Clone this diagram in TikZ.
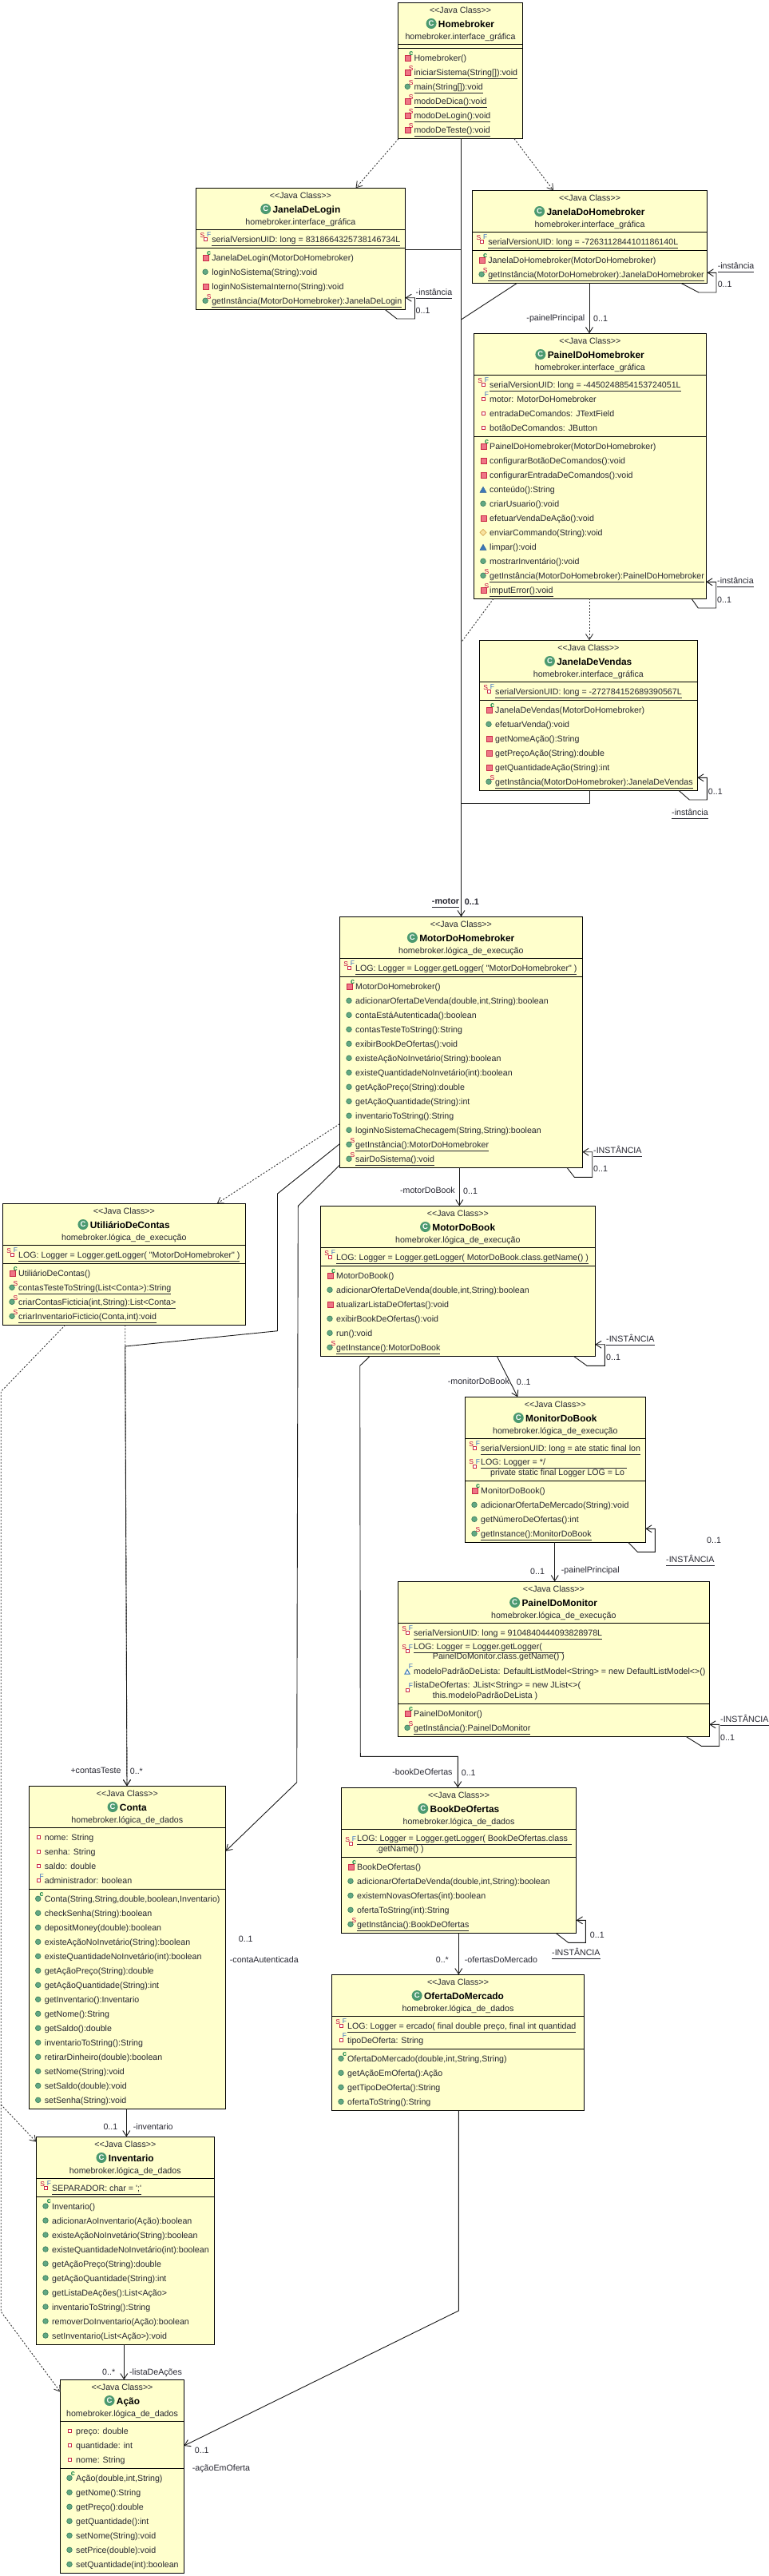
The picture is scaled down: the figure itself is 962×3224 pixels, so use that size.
\documentclass[tikz,border=0pt]{standalone}
\usepackage{fontspec}
\setmainfont{Liberation Sans}[Ligatures=TeXOff]
\usepackage{tikz}
\usetikzlibrary{arrows.meta,positioning}
\definecolor{boxfill}{HTML}{FFFFCC}
\definecolor{inkcol}{HTML}{262630}
\definecolor{classgreen}{HTML}{4C9A70}
\definecolor{pubfill}{HTML}{62A983}
\definecolor{pubedge}{HTML}{3F8060}
\definecolor{prifill}{HTML}{EE7585}
\definecolor{priedge}{HTML}{C92A48}
\definecolor{prefill}{HTML}{3C78B8}
\definecolor{pkgfill}{HTML}{F8E3A0}
\definecolor{pkgedge}{HTML}{D8A850}
\definecolor{markS}{HTML}{C4003C}
\definecolor{markF}{HTML}{3A6EC0}
\definecolor{markC}{HTML}{0B8040}
\tikzset{
  classbox/.style={draw=black,fill=boxfill,line width=1pt,rectangle,inner sep=0pt,outer sep=0pt,anchor=north west},
  sepline/.style={draw=black,line width=1pt},
  stereotext/.style={anchor=base,inner sep=0pt,text=inkcol,font=\fontsize{10.65}{12}\selectfont},
  titletext/.style={anchor=base,inner sep=0pt,text=black,text height=9pt,text depth=0pt,font=\fontsize{11.9}{13}\selectfont\bfseries},
  classicon/.style={circle,fill=classgreen,inner sep=0pt,minimum size=13pt,text=white,font=\fontsize{9.5}{10}\selectfont\bfseries},
  rowtext/.style={anchor=base west,inner sep=0pt,text=inkcol,font=\fontsize{10.65}{12}\selectfont},
  lblright/.style={rowtext},
  lblleft/.style={rowtext,anchor=base east},
  markhigh/.style={inner sep=0pt,font=\fontsize{8.5}{9}\selectfont},
  pubico/.style={fill=pubfill,draw=pubedge,line width=0.7pt},
  priico/.style={fill=prifill,draw=priedge,line width=0.8pt},
  proico/.style={fill=prefill,draw=prefill!80!black,line width=0.5pt},
  pkgico/.style={fill=pkgfill,draw=pkgedge,line width=0.7pt},
  fldico/.style={fill=white,draw=priedge,line width=1pt},
  solidline/.style={draw=black!90,line width=0.9pt},
  assoc/.style={solidline,-{Straight Barb[length=7pt,width=9pt]}},
  depline/.style={draw=black!80,line width=0.9pt,dash pattern=on 2pt off 2pt},
  dep/.style={depline,-{Straight Barb[length=7pt,width=9pt]}}
}
\newcommand{\stat}[1]{\setbox0=\hbox{#1}\rlap{\rule[-4.6pt]{\wd0}{0.9pt}}\box0 }
\newcommand{\statto}[2]{\rlap{\rule[-4.6pt]{#1}{0.9pt}}#2}
\newcommand{\mkS}[2]{\draw (#1-3.5,#2-9) node[markhigh,text=markS] (\cur s) {S};}
\newcommand{\mkF}[2]{\draw (#1-3.5,#2-9.5) node[markhigh,text=markF] (\cur f) {F};}
\newcommand{\mkC}[2]{\draw (#1-3.5,#2-9.5) node[markhigh,text=markC,font=\fontsize{9}{9}\selectfont\bfseries] (\cur c) {c};}
\newcommand{\icopub}[2]{\draw[pubico] (#1-8,#2-4) circle[radius=3.3pt];}
\newcommand{\icopri}[2]{\draw[priico] (#1-10.6,#2-6.8) rectangle (#1-4,#2-0.2);}
\newcommand{\icopro}[2]{\draw[proico] (#1-12,#2) -- (#1-4,#2) -- (#1-8,#2-7) -- cycle;}
\newcommand{\icopkg}[2]{\draw[pkgico] (#1-12,#2-4) -- (#1-8,#2) -- (#1-4,#2-4) -- (#1-8,#2-8) -- cycle;}
\newcommand{\icospub}[2]{\icopub{#1}{#2}\mkS{#1}{#2}}
\newcommand{\icospri}[2]{\icopri{#1}{#2}\mkS{#1}{#2}}
\newcommand{\icocpub}[2]{\icopub{#1}{#2}\mkC{#1}{#2}}
\newcommand{\icocpri}[2]{\icopri{#1}{#2}\mkC{#1}{#2}}
\newcommand{\icofpri}[2]{\draw[fldico] (#1-9.7,#2-6) rectangle (#1-5.7,#2-2);}
\newcommand{\icoffin}[2]{\icofpri{#1}{#2}\mkF{#1}{#2}}
\newcommand{\icosfin}[2]{\icofpri{#1}{#2}\mkF{#1}{#2}\draw (#1-11.7,#2-9) node[markhigh,text=markS] (\cur s) {S};}
\newcommand{\icopfin}[2]{\draw[draw=prefill,line width=1pt,fill=white] (#1-11,#2) -- (#1-5,#2) -- (#1-8,#2-5.5) -- cycle;\mkF{#1}{#2}}
\newcommand{\umlclass}[9]{%
  \pgfmathsetmacro{\boxw}{#4-#2}\pgfmathsetmacro{\boxh}{#5-#3}\pgfmathsetmacro{\boxc}{(#2+#4)/2}
  \node[classbox,minimum width=\boxw pt,minimum height=\boxh pt] (#1) at (#2,#3) {};
  \draw[sepline] (#1.west |- 0,#6) -- (#1.east |- 0,#6);
  \draw[sepline] (#1.west |- 0,#7) -- (#1.east |- 0,#7);
  \draw (\boxc,#3+13) node[stereotext] (#1-st) {<<Java Class>>};
  \draw (\boxc+7.5,#3+30.7) node[titletext] (#1-tt) {#8};
  \node[classicon,left=2pt of #1-tt] (#1-ic) {C};
  \draw (\boxc,#3+45.7) node[stereotext] (#1-pk) {#9};
}
\newcommand{\members}[4]{%
  \foreach \ico/\txt [count=\i] in {#4} {
    \pgfmathsetmacro{\yb}{#3+18*(\i-1)}
    \def\cur{#1\i}
    \csname ico\ico\endcsname{#2}{\yb}
    \draw (#2,\yb) node[rowtext] (\cur) {\txt};
  }}
\begin{document}
\begin{tikzpicture}[x=1pt,y=-1pt]
\useasboundingbox (0,0) rectangle (962,3224);

\umlclass{hb}{498.6}{3.3}{654.4}{173.7}{55.3}{60.3}{Homebroker}{homebroker.interface\_gráfica}
\members{hb-m}{518.3}{76.3}{cpri/Homebroker(),spri/\stat{iniciarSistema(String[]):void},spub/\stat{main(String[]):void},spri/\stat{modoDeDica():void},spri/\stat{modoDeLogin():void},spri/\stat{modoDeTeste():void}}

\umlclass{login}{245.4}{235.3}{507.5}{387.3}{287.3}{310.3}{JanelaDeLogin}{homebroker.interface\_gráfica}
\members{login-a}{265.1}{303.3}{sfin/\stat{serialVersionUID: long = 8318664325738146734L}}
\members{login-m}{265.1}{326.3}{cpri/JanelaDeLogin(MotorDoHomebroker),pub/loginNoSistema(String):void,pri/loginNoSistemaInterno(String):void,spub/\stat{getInstância(MotorDoHomebroker):JanelaDeLogin}}

\umlclass{janela}{591.4}{238.3}{885.6}{354.3}{290.3}{313.3}{JanelaDoHomebroker}{homebroker.interface\_gráfica}
\members{janela-a}{611.1}{306.3}{sfin/\stat{serialVersionUID: long = -7263112844101186140L}}
\members{janela-m}{611.1}{329.3}{cpri/JanelaDoHomebroker(MotorDoHomebroker),spub/\stat{getInstância(MotorDoHomebroker):JanelaDoHomebroker}}

\umlclass{painel}{593.3}{417.3}{884.3}{749.3}{469.3}{546.3}{PainelDoHomebroker}{homebroker.interface\_gráfica}
\members{painel-a}{613}{485.3}{sfin/\stat{serialVersionUID: long = -4450248854153724051L},ffin/motor: MotorDoHomebroker,fpri/entradaDeComandos: JTextField,fpri/botãoDeComandos: JButton}
\members{painel-m}{613}{562.3}{cpri/PainelDoHomebroker(MotorDoHomebroker),pri/configurarBotãoDeComandos():void,pri/configurarEntradaDeComandos():void,pro/conteúdo():String,pub/criarUsuario():void,pri/efetuarVendaDeAção():void,pkg/enviarCommando(String):void,pro/limpar():void,pub/mostrarInventário():void,spub/\stat{getInstância(MotorDoHomebroker):PainelDoHomebroker},spri/\stat{imputError():void}}

\umlclass{vendas}{600.3}{801.3}{873.3}{989.3}{853.3}{876.3}{JanelaDeVendas}{homebroker.interface\_gráfica}
\members{vendas-a}{620}{869.3}{sfin/\stat{serialVersionUID: long = -272784152689390567L}}
\members{vendas-m}{620}{892.3}{cpri/JanelaDeVendas(MotorDoHomebroker),pub/efetuarVenda():void,pri/getNomeAção():String,pri/getPreçoAção(String):double,pri/getQuantidadeAção(String):int,spub/\stat{getInstância(MotorDoHomebroker):JanelaDeVendas}}

\umlclass{motor}{425.3}{1147.3}{729.3}{1461.3}{1199.3}{1222.3}{MotorDoHomebroker}{homebroker.lógica\_de\_execução}
\members{motor-a}{445}{1215.3}{sfin/\stat{LOG: Logger = Logger.getLogger( "MotorDoHomebroker" )}}
\members{motor-m}{445}{1238.3}{cpri/MotorDoHomebroker(),pub/{adicionarOfertaDeVenda(double,int,String):boolean},pub/contaEstáAutenticada():boolean,pub/contasTesteToString():String,pub/exibirBookDeOfertas():void,pub/existeAçãoNoInvetário(String):boolean,pub/existeQuantidadeNoInvetário(int):boolean,pub/getAçãoPreço(String):double,pub/getAçãoQuantidade(String):int,pub/inventarioToString():String,pub/{loginNoSistemaChecagem(String,String):boolean},spub/\stat{getInstância():MotorDoHomebroker},spub/\stat{sairDoSistema():void}}

\umlclass{utilcontas}{3.3}{1506.3}{307.3}{1658.3}{1558.3}{1581.3}{UtiliárioDeContas}{homebroker.lógica\_de\_execução}
\members{utilcontas-a}{23}{1574.3}{sfin/\stat{LOG: Logger = Logger.getLogger( "MotorDoHomebroker" )}}
\members{utilcontas-m}{23}{1597.3}{cpri/UtiliárioDeContas(),spub/\stat{contasTesteToString(List<Conta>):String},spub/\stat{criarContasFicticia(int,String):List<Conta>},spub/\stat{criarInventarioFicticio(Conta,int):void}}

\umlclass{motorbook}{401.3}{1509.3}{745.3}{1697.3}{1561.3}{1584.3}{MotorDoBook}{homebroker.lógica\_de\_execução}
\members{motorbook-a}{421}{1577.3}{sfin/\stat{LOG: Logger = Logger.getLogger( MotorDoBook.class.getName() )}}
\members{motorbook-m}{421}{1600.3}{cpri/MotorDoBook(),pub/{adicionarOfertaDeVenda(double,int,String):boolean},pri/atualizarListaDeOfertas():void,pub/exibirBookDeOfertas():void,pub/run():void,spub/\stat{getInstance():MotorDoBook}}

\umlclass{monitor}{582.3}{1748.3}{808.3}{1930.3}{1800.3}{1853.3}{MonitorDoBook}{homebroker.lógica\_de\_execução}
\members{monitor-a}{602}{1816.3}{sfin/\stat{serialVersionUID: long = ate static final lon}}
\def\cur{monitor-b}\icosfin{602}{1839}
\draw (602,1833) node[rowtext] (monitor-b1) {\statto{183pt}{LOG: Logger = */}};
\draw (614,1846) node[rowtext] (monitor-b2) {private static final Logger LOG = Lo};
\members{monitor-m}{602}{1869.3}{cpri/MonitorDoBook(),pub/adicionarOfertaDeMercado(String):void,pub/getNúmeroDeOfertas():int,spub/\stat{getInstance():MonitorDoBook}}

\umlclass{paimon}{498.3}{1979.3}{888.3}{2173.3}{2031.3}{2132.3}{PainelDoMonitor}{homebroker.lógica\_de\_execução}
\members{paimon-a}{518}{2047.3}{sfin/\stat{serialVersionUID: long = 9104840444093828978L}}
\def\cur{paimon-b}\icosfin{518}{2070.7}
\draw (518,2064.3) node[rowtext] (paimon-b1) {\statto{187.7pt}{LOG: Logger = Logger.getLogger(}};
\draw (541.7,2076.7) node[rowtext] (paimon-b2) {PainelDoMonitor.class.getName() )};
\def\cur{paimon-c}\icopfin{518}{2095}
\draw (518,2095) node[rowtext] (paimon-c1) {modeloPadrãoDeLista: DefaultListModel<String> = new DefaultListModel<>()};
\def\cur{paimon-d}\icoffin{518}{2119}
\draw (518,2112) node[rowtext] (paimon-d1) {listaDeOfertas: JList<String> = new JList<>(};
\draw (541.7,2125) node[rowtext] (paimon-d2) {this.modeloPadrãoDeLista )};
\members{paimon-m}{518}{2148.3}{cpri/PainelDoMonitor(),spub/\stat{getInstância():PainelDoMonitor}}

\umlclass{bookof}{427.3}{2237.3}{721.7}{2419.3}{2289.3}{2324.3}{BookDeOfertas}{homebroker.lógica\_de\_dados}
\def\cur{bookof-a}\icosfin{447}{2311.3}
\draw (447,2304) node[rowtext] (bookof-a1) {\statto{269pt}{LOG: Logger = Logger.getLogger( BookDeOfertas.class}};
\draw (470.7,2317.3) node[rowtext] (bookof-a2) {.getName() )};
\members{bookof-m}{447}{2340.3}{cpri/BookDeOfertas(),pub/{adicionarOfertaDeVenda(double,int,String):boolean},pub/existemNovasOfertas(int):boolean,pub/ofertaToString(int):String,spub/\stat{getInstância():BookDeOfertas}}

\umlclass{oferta}{415.3}{2471.3}{731.7}{2641.7}{2523.3}{2564.3}{OfertaDoMercado}{homebroker.lógica\_de\_dados}
\members{oferta-a}{435}{2539.3}{sfin/\stat{LOG: Logger = ercado( final double preço, final int quantidad},ffin/tipoDeOferta: String}
\members{oferta-m}{435}{2580.3}{cpub/{OfertaDoMercado(double,int,String,String)},pub/getAçãoEmOferta():Ação,pub/getTipoDeOferta():String,pub/ofertaToString():String}

\umlclass{conta}{36}{2235.3}{282.7}{2639.3}{2287.7}{2364.3}{Conta}{homebroker.lógica\_de\_dados}
\members{conta-a}{55.7}{2303.7}{fpri/nome: String,fpri/senha: String,fpri/saldo: double,ffin/administrador: boolean}
\members{conta-m}{55.7}{2380.3}{cpub/{Conta(String,String,double,boolean,Inventario)},pub/checkSenha(String):boolean,pub/depositMoney(double):boolean,pub/existeAçãoNoInvetário(String):boolean,pub/existeQuantidadeNoInvetário(int):boolean,pub/getAçãoPreço(String):double,pub/getAçãoQuantidade(String):int,pub/getInventario():Inventario,pub/getNome():String,pub/getSaldo():double,pub/inventarioToString():String,pub/retirarDinheiro(double):boolean,pub/setNome(String):void,pub/setSaldo(double):void,pub/setSenha(String):void}

\umlclass{invent}{45.3}{2674.3}{268.3}{2934.3}{2726.3}{2749}{Inventario}{homebroker.lógica\_de\_dados}
\members{invent-a}{65}{2742.3}{sfin/\stat{SEPARADOR: char = ';'}}
\members{invent-m}{65}{2765}{cpub/Inventario(),pub/adicionarAoInventario(Ação):boolean,pub/existeAçãoNoInvetário(String):boolean,pub/existeQuantidadeNoInvetário(int):boolean,pub/getAçãoPreço(String):double,pub/getAçãoQuantidade(String):int,pub/getListaDeAções():List<Ação>,pub/inventarioToString():String,pub/removerDoInventario(Ação):boolean,pub/setInventario(List<Ação>):void}

\umlclass{acao}{75.7}{2978.3}{230.3}{3220.3}{3030.3}{3089.3}{Ação}{homebroker.lógica\_de\_dados}
\members{acao-a}{95}{3046.3}{fpri/preço: double,fpri/quantidade: int,fpri/nome: String}
\members{acao-m}{95}{3105.3}{cpub/{Ação(double,int,String)},pub/getNome():String,pub/getPreço():double,pub/getQuantidade():int,pub/setNome(String):void,pub/setPrice(double):void,pub/setQuantidade(int):boolean}

\coordinate (trunkA) at (577.5,312.7);
\coordinate (trunkB) at (577.5,400);
\coordinate (trunkC) at (577.5,804);
\coordinate (trunkD) at (577.5,1005);
\coordinate (vendasTurn) at (738,1005);
\coordinate (contaA) at (347.5,1494);
\coordinate (contaB) at (347.5,1665.7);
\coordinate (contaC) at (156.7,1685);
\coordinate (autA) at (373.3,1509.3);
\coordinate (autB) at (371.7,2230.7);
\coordinate (edgeA) at (1.2,1741.7);
\coordinate (edgeB) at (1.2,2893);
\coordinate (edgeC) at (1.2,2634);
\coordinate (bookA) at (450.7,1709.3);
\coordinate (bookB) at (451.3,2198.3);
\coordinate (bookC) at (573.3,2198.3);
\coordinate (ofertaTurn) at (574.3,2892);

\draw[dep] (hb.south -| 499,0) -- (login.north -| 445.5,0);
\draw[dep] (hb.south -| 644,0) -- (janela.north -| 693,0);
\path (hb.south -| 577.5,0) edge[assoc] (motor.north -| 577.5,0);
\path (login.east |- 0,312.7) edge[solidline] (trunkA);
\path (janela.south -| 647.7,0) edge[solidline] (trunkB);
\path (janela.south -| 738,0) edge[assoc] (painel.north -| 738,0);
\path (painel.south -| 618,0) edge[depline] (trunkC);
\path (painel.south -| 738,0) edge[dep] (vendas.north -| 738,0);
\draw[solidline] (vendas.south -| 738,0) -- (vendasTurn) -- (trunkD);

\draw[assoc] (login.south -| 482,0) -- (497,399) -- (519.5,399) -- (519.5,372.7) -- (login.east |- 0,372.7);
\draw[assoc] (janela.south -| 852.6,0) -- (875,366) -- (897,366) -- (897,341.3) -- (janela.east |- 0,341.3);
\draw[assoc] (painel.south -| 866,0) -- (874.3,761) -- (896.7,761) -- (896.7,728.3) -- (painel.east |- 0,728.3);
\draw[assoc] (vendas.south -| 850,0) -- (863.3,1001) -- (885.3,1001) -- (885.3,973.3) -- (vendas.east |- 0,973.3);
\draw[assoc] (motor.south -| 710,0) -- (719.3,1473.3) -- (741.7,1473.3) -- (741.7,1441.7) -- (motor.east |- 0,1441.7);
\draw[assoc] (motorbook.south -| 718.3,0) -- (735,1709.3) -- (757.3,1709.3) -- (757.3,1682.7) -- (motorbook.east |- 0,1682.7);
\draw[assoc] (monitor.south -| 786.7,0) -- (798.3,1942.3) -- (820.3,1942.3) -- (820.3,1913.3) -- (monitor.east |- 0,1913.3);
\draw[assoc] (paimon.south -| 859,0) -- (878.3,2185.3) -- (900.7,2185.3) -- (900.7,2158.3) -- (paimon.east |- 0,2158.3);
\draw[assoc] (bookof.south -| 696,0) -- (711.7,2431.3) -- (733.3,2431.3) -- (733.3,2403.3) -- (bookof.east |- 0,2403.3);

\path (motor.south -| 575.3,0) edge[assoc] (motorbook.north -| 575.3,0);
\draw[dep] (motor.west |- 0,1406.7) -- (utilcontas.north -| 271.7,0);
\draw[dep] (utilcontas.south -| 156.7,0) -- (conta.north -| 159,0);
\draw[assoc] (motor.west |- 0,1431.7) -- (contaA) -- (contaB) -- (contaC) -- (conta.north -| 159,0);
\draw[assoc] (motor.west |- 0,1458.3) -- (autA) -- (autB) -- (conta.east |- 0,2316.7);
\draw[dep] (utilcontas.south -| 81.7,0) -- (edgeA) -- (edgeB) -- (acao.west |- 0,2993.7);
\draw[dep] (edgeC) -- (invent.west |- 0,2680.7);
\path (motorbook.south -| 622.3,0) edge[assoc] (monitor.north -| 648.3,0);
\path (monitor.south -| 694.7,0) edge[assoc] (paimon.north -| 694.7,0);
\draw[assoc] (motorbook.south -| 463.3,0) -- (bookA) -- (bookB) -- (bookC) -- (bookof.north -| 573.3,0);
\path (bookof.south -| 574.3,0) edge[assoc] (oferta.north -| 574.3,0);
\path (conta.south -| 158.3,0) edge[assoc] (invent.north -| 158.3,0);
\path (invent.south -| 155.3,0) edge[assoc] (acao.north -| 155.3,0);
\draw[assoc] (oferta.south -| 574.3,0) -- (ofertaTurn) -- (acao.east |- 0,3061);

\draw (520.5,369) node[lblright] (instLogin) {\stat{-instância}};
\draw (520.5,392) node[lblright] (multLogin) {0..1};
\draw (898.6,336.5) node[lblright] (instJanela) {\stat{-instância}};
\draw (898.6,359) node[lblright] (multJanela) {0..1};
\draw (732.5,401.3) node[lblleft] (roleJanela) {-painelPrincipal};
\draw (743,402) node[lblright] (multPainelTop) {0..1};
\draw (898,730.5) node[lblright] (instPainel) {\stat{-instância}};
\draw (898,754) node[lblright] (multPainel) {0..1};
\draw (841,1020) node[lblright] (instVendas) {\stat{-instância}};
\draw (886.7,994) node[lblright] (multVendas) {0..1};
\draw (540.7,1131) node[lblright,font=\fontsize{10.8}{12}\selectfont\bfseries] (roleMotor) {\stat{-motor}};
\draw (581.7,1132) node[lblright,font=\fontsize{10.8}{12}\selectfont\bfseries] (multMotorTop) {0..1};
\draw (743,1443) node[lblright] (instMotor) {\stat{-INSTÂNCIA}};
\draw (743,1466) node[lblright] (multMotor) {0..1};
\draw (570,1493) node[lblleft] (roleBook) {-motorDoBook};
\draw (580,1494) node[lblright] (multBookTop) {0..1};
\draw (759,1679.3) node[lblright] (instBook) {\stat{-INSTÂNCIA}};
\draw (759,1702.3) node[lblright] (multBook) {0..1};
\draw (560.7,1732.3) node[lblright] (roleMonitor) {-monitorDoBook};
\draw (646.7,1733) node[lblright] (multMonitorTop) {0..1};
\draw (885,1931) node[lblright] (multMonitor) {0..1};
\draw (834,1955) node[lblright] (instMonitor) {\stat{-INSTÂNCIA}};
\draw (664,1970) node[lblright] (multPaimonTop) {0..1};
\draw (702.7,1968) node[lblright] (rolePaimon) {-painelPrincipal};
\draw (902,2155) node[lblright] (instPaimon) {\stat{-INSTÂNCIA}};
\draw (902,2178) node[lblright] (multPaimon) {0..1};
\draw (566.7,2221) node[lblleft] (roleOfertas) {-bookDeOfertas};
\draw (577.7,2222) node[lblright] (multOfertasTop) {0..1};
\draw (738.7,2425) node[lblright] (multOfertas) {0..1};
\draw (691,2447.3) node[lblright] (instOfertas) {\stat{-INSTÂNCIA}};
\draw (545.7,2456.3) node[lblright] (multMercado) {0..*};
\draw (581.7,2456) node[lblright] (roleMercado) {-ofertasDoMercado};
\draw (88.3,2219) node[lblright] (roleTeste) {+contasTeste};
\draw (162.7,2220) node[lblright] (multTeste) {0..*};
\draw (298.7,2430) node[lblright] (multConta) {0..1};
\draw (287.7,2456.3) node[lblright] (roleConta) {-contaAutenticada};
\draw (129.3,2665) node[lblright] (multInvent) {0..1};
\draw (166.7,2665) node[lblright] (roleInvent) {-inventario};
\draw (128,2972) node[lblright] (multLista) {0..*};
\draw (162,2972) node[lblright] (roleLista) {-listaDeAções};
\draw (243.7,3070) node[lblright] (multAcao) {0..1};
\draw (240.7,3092.3) node[lblright] (roleAcao) {-açãoEmOferta};
\end{tikzpicture}
\end{document}
